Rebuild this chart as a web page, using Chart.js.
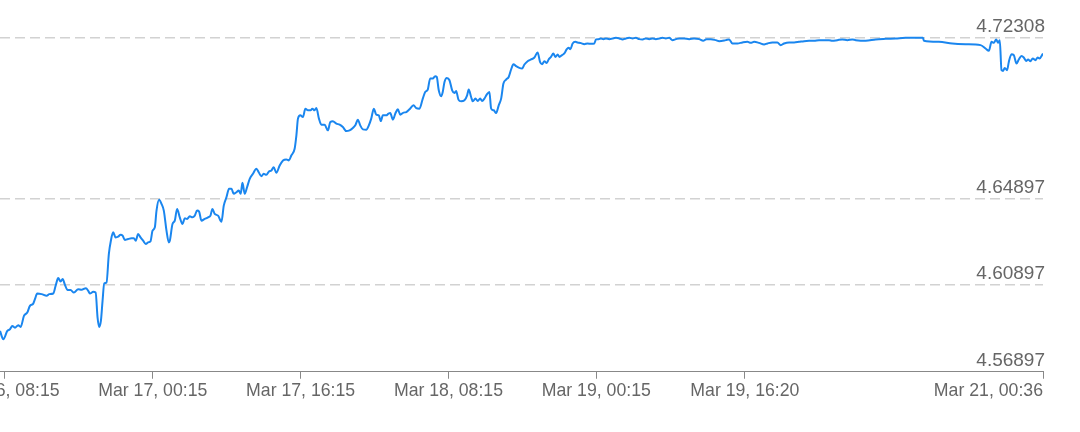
<!DOCTYPE html>
<html><head><meta charset="utf-8">
<script src="https://cdn.jsdelivr.net/npm/chart.js@4.4.1/dist/chart.umd.min.js"></script>
<style>html,body{margin:0;padding:0;background:#fff;}#wrap{width:1080px;height:432px;}</style>
</head><body><div id="wrap"><canvas id="c" width="1080" height="432"></canvas></div>
<script>
// hours since Mar 16 00:00
const hours = [7.71,8.07,8.50,8.79,9.04,9.33,9.69,9.95,10.30,10.66,10.95,11.31,11.49,11.74,12.22,12.76,13.04,13.47,13.73,14.01,14.27,14.49,14.74,15.03,15.35,15.71,16.17,16.54,17.01,17.26,17.44,17.80,18.06,18.27,18.44,18.63,18.81,18.99,19.24,19.49,19.71,19.96,20.22,20.50,20.76,20.98,21.22,21.58,21.95,22.20,22.41,22.66,22.92,23.20,23.49,23.74,24.00,24.22,24.47,24.65,24.93,25.19,25.44,25.73,25.98,26.09,26.38,26.63,26.88,27.17,27.46,27.71,27.96,28.25,28.54,28.79,29.04,29.26,29.51,29.87,30.23,30.49,30.70,30.95,31.31,31.68,31.93,32.22,32.50,32.76,33.01,33.30,33.55,33.76,33.95,34.20,34.45,34.74,35.09,35.46,35.71,36.00,36.25,36.54,36.82,37.08,37.33,37.62,37.98,38.34,38.70,38.98,39.24,39.60,39.79,39.96,40.22,40.50,40.76,41.04,41.33,41.51,41.76,41.95,42.23,42.49,42.84,43.20,43.46,43.74,44.11,44.47,44.82,45.19,45.55,45.90,46.20,46.44,46.70,46.99,47.35,47.63,47.89,48.17,48.43,48.71,48.93,49.15,49.51,49.76,49.95,50.23,50.52,50.77,51.03,51.38,51.68,52.03,52.47,52.76,53.11,53.47,53.73,54.01,54.27,54.55,54.81,54.98,55.20,55.46,55.63,55.82,56.07,56.36,56.65,56.90,57.08,57.33,57.62,57.98,58.27,58.44,58.70,58.88,59.17,59.42,59.68,59.89,60.14,60.39,60.68,60.87,61.15,61.41,61.69,61.95,62.20,62.49,62.77,63.03,63.28,63.57,63.92,64.22,64.47,64.82,65.19,65.55,65.90,66.16,66.38,66.63,66.88,67.09,67.35,67.60,67.82,68.07,68.25,68.54,68.79,69.04,69.26,69.44,69.69,69.98,70.23,70.60,70.95,71.31,71.68,72.03,72.22,72.50,72.76,73.01,73.30,73.66,74.01,74.38,74.74,75.09,75.46,75.82,76.18,76.54,76.90,77.26,77.62,77.98,78.34,78.70,79.06,79.42,79.78,80.14,80.50,80.86,81.22,81.76,82.30,82.84,83.39,83.82,84.17,84.65,85.19,85.55,86.27,86.63,86.99,87.53,88.07,88.61,88.97,89.33,89.87,90.41,90.77,91.31,91.85,92.22,92.57,93.12,93.66,94.19,94.74,95.28,95.82,96.36,96.90,97.44,97.80,98.34,98.88,99.42,99.96,100.33,101.41,102.49,103.57,104.65,105.73,106.81,107.60,107.71,109.33,110.77,112.22,113.84,114.38,114.74,115.03,115.28,115.53,115.74,115.92,116.11,116.28,116.46,116.71,116.90,117.19,117.44,117.73,117.98,118.27,118.52,118.77,118.99,119.24,119.49,119.78,120.03,120.22,120.60];
const rates = [4.58781,4.58397,4.58781,4.58860,4.59013,4.58934,4.59045,4.58967,4.59476,4.59629,4.59939,4.60045,4.60249,4.60508,4.60481,4.60402,4.60481,4.60508,4.60865,4.61221,4.61064,4.61175,4.60911,4.60666,4.60666,4.60555,4.60712,4.60680,4.60758,4.60633,4.60508,4.60587,4.60555,4.59397,4.58967,4.59244,4.60170,4.60971,4.61018,4.62332,4.62948,4.63333,4.63101,4.63133,4.63226,4.63180,4.62981,4.63027,4.63055,4.63055,4.62948,4.63259,4.63101,4.62948,4.62796,4.62870,4.62916,4.63411,4.63564,4.64337,4.64833,4.64648,4.64337,4.63411,4.62870,4.62948,4.63721,4.63874,4.64416,4.64027,4.63721,4.63981,4.63953,4.64073,4.64027,4.64106,4.64337,4.64291,4.63874,4.63953,4.64027,4.64106,4.64416,4.64184,4.64106,4.63828,4.64569,4.64953,4.65342,4.65342,4.65111,4.65185,4.65263,4.65111,4.65620,4.65111,4.65416,4.65805,4.66037,4.66268,4.66110,4.65925,4.66037,4.65990,4.66143,4.66189,4.66341,4.66083,4.66421,4.66652,4.66698,4.66652,4.66883,4.67194,4.67809,4.68583,4.68735,4.68657,4.69045,4.68967,4.68967,4.69045,4.68967,4.69073,4.68583,4.68305,4.68305,4.68041,4.68425,4.68458,4.68351,4.68305,4.68193,4.68008,4.68041,4.68147,4.68305,4.68536,4.68272,4.68087,4.68073,4.68272,4.68583,4.69045,4.68768,4.68735,4.68471,4.68735,4.68735,4.68814,4.68841,4.68536,4.68841,4.69013,4.68768,4.68860,4.68888,4.69013,4.69198,4.69073,4.69045,4.69508,4.69814,4.69925,4.70434,4.70434,4.70541,4.70508,4.69892,4.69615,4.69814,4.70277,4.70462,4.70355,4.69892,4.69767,4.69860,4.69462,4.69383,4.69429,4.69661,4.69925,4.69582,4.69383,4.69508,4.69397,4.69508,4.69397,4.69508,4.69693,4.69814,4.69045,4.68967,4.68841,4.69198,4.69508,4.70203,4.70388,4.70508,4.70851,4.71096,4.71003,4.70925,4.70897,4.71082,4.71235,4.71314,4.71407,4.71638,4.71203,4.71096,4.71235,4.71156,4.71314,4.71434,4.71591,4.71434,4.71545,4.71434,4.71513,4.71591,4.71777,4.71851,4.71791,4.72054,4.72128,4.72101,4.72068,4.72022,4.72054,4.72036,4.72054,4.72240,4.72253,4.72286,4.72253,4.72286,4.72253,4.72286,4.72314,4.72286,4.72240,4.72286,4.72314,4.72286,4.72314,4.72253,4.72240,4.72286,4.72253,4.72286,4.72253,4.72286,4.72314,4.72286,4.72314,4.72207,4.72253,4.72286,4.72286,4.72253,4.72286,4.72253,4.72175,4.72253,4.72253,4.72207,4.72161,4.72207,4.72240,4.72054,4.72054,4.72101,4.72128,4.72082,4.72128,4.72082,4.72008,4.72054,4.72101,4.72101,4.71976,4.72054,4.72101,4.72101,4.72128,4.72161,4.72175,4.72175,4.72207,4.72207,4.72207,4.72175,4.72207,4.72240,4.72207,4.72240,4.72207,4.72175,4.72240,4.72267,4.72286,4.72314,4.72314,4.72314,4.72175,4.72128,4.72054,4.72022,4.71976,4.71823,4.71712,4.72128,4.72082,4.72240,4.72082,4.72207,4.70818,4.70786,4.70925,4.70818,4.71203,4.71559,4.71513,4.71128,4.71314,4.71480,4.71407,4.71249,4.71314,4.71235,4.71360,4.71281,4.71407,4.71360,4.71591];
const axisStartHour = 7.71;
const tickHours = [8.25, 24.25, 40.25, 56.25, 72.25, 88.333, 120.6];
const tickLabels = ['Mar 16, 08:15','Mar 17, 00:15','Mar 17, 16:15','Mar 18, 08:15','Mar 19, 00:15','Mar 19, 16:20','Mar 21, 00:36'];
const yTickValues = [4.56897, 4.60897, 4.64897, 4.72308];
const yMin = 4.56897, yMax = 4.7406;

const FONT = '"Liberation Sans", Arial, Helvetica, sans-serif';
new Chart(document.getElementById('c'), {
  type: 'line',
  data: { datasets: [{
    data: hours.map((h, i) => ({ x: h, y: rates[i] })),
    borderColor: '#1a86ef', borderWidth: 2, pointRadius: 0,
    cubicInterpolationMode: 'monotone', fill: false
  }]},
  options: {
    responsive: false, animation: false, devicePixelRatio: 1,
    layout: { padding: { left: 0, right: 33, top: 0, bottom: 28 } },
    plugins: { legend: { display: false }, tooltip: { enabled: false } },
    scales: {
      x: {
        type: 'linear', min: axisStartHour, max: tickHours[tickHours.length - 1],
        afterBuildTicks: s => { s.ticks = [axisStartHour, ...tickHours].map(v => ({ value: v })); },
        afterFit: s => { s.paddingLeft = 0; s.paddingRight = 0; },
        grid: { drawOnChartArea: false, drawTicks: true, tickLength: 7, tickWidth: 1,
          tickColor: c => c.index === 0 ? 'rgba(0,0,0,0)' : '#888888' },
        border: { display: true, color: '#888888', width: 1 },
        ticks: { autoSkip: false, maxRotation: 0, minRotation: 0, align: 'inner', padding: 2,
          color: '#666666', font: { family: FONT, size: 17.7 },
          callback: (v, i) => i === 0 ? '' : tickLabels[i - 1] }
      },
      y: {
        position: 'right', min: yMin, max: yMax,
        afterBuildTicks: s => { s.ticks = yTickValues.map(v => ({ value: v })); },
        afterFit: s => { s.paddingTop = 0; s.paddingBottom = 0; },
        grid: { drawTicks: false, lineWidth: 1.5,
          color: c => c.index === 0 ? 'rgba(0,0,0,0)' : '#d2d2d2' },
        border: { display: false, dash: [10, 5] },
        ticks: { mirror: true, padding: 2, labelOffset: -11, color: '#666666',
          font: { family: FONT, size: 19 },
          callback: v => Number(v).toFixed(5) }
      }
    }
  }
});
</script></body></html>
